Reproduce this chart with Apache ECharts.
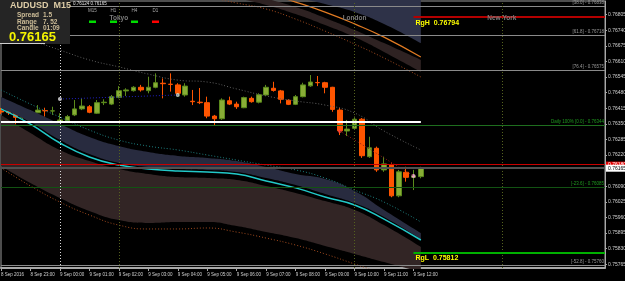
<!DOCTYPE html>
<html>
<head>
<meta charset="utf-8">
<script src="https://cdn.jsdelivr.net/npm/echarts@6/dist/echarts.min.js"></script>
<style>
  html, body { margin: 0; padding: 0; background: #000; }
  #chart { width: 625px; height: 281px; }
</style>
</head>
<body>
<div id="chart"></div>
<script>
// M15 slots, 8 Sep 22:00 .. 9 Sep 18:30 (prices only up to 12:15)
const times = []
for (let i = 0; i < 83; i++) {
  const m = (22 * 60 + i * 15) % 1440
  times.push(String(Math.floor(m / 60)).padStart(2, '0') + ':' + String(m % 60).padStart(2, '0'))
}
// label every 4th slot
const xLabels = ['8 Sep 2016', '8 Sep 23:00', '9 Sep 00:00', '9 Sep 01:00', '9 Sep 02:00', '9 Sep 03:00',
  '9 Sep 04:00', '9 Sep 05:00', '9 Sep 06:00', '9 Sep 07:00', '9 Sep 08:00', '9 Sep 09:00',
  '9 Sep 10:00', '9 Sep 11:00', '9 Sep 12:00']

const yTicks = [0.75765, 0.75830, 0.75895, 0.75960, 0.76025, 0.76090, 0.76155, 0.76220, 0.76285,
  0.76350, 0.76415, 0.76480, 0.76545, 0.76610, 0.76675, 0.76740, 0.76805]
const yLabelVals = [0.75765, 0.75830, 0.75895, 0.75960, 0.76025, 0.76090, 0.76220, 0.76285,
  0.76350, 0.76415, 0.76480, 0.76545, 0.76610, 0.76675, 0.76740, 0.76805]

// [open, close, low, high]
const candles = [
  [0.76403, 0.76399, 0.76391, 0.76416], [0.76403, 0.76396, 0.76387, 0.76437], [0.76396, 0.76377, 0.76345, 0.76407],
  [0.76377, 0.76387, 0.76369, 0.76394], [0.76385, 0.76400, 0.76380, 0.76407], [0.76396, 0.76407, 0.76394, 0.76428],
  [0.76405, 0.76404, 0.76380, 0.76417], [0.76403, 0.76404, 0.76387, 0.76421], [0.76356, 0.76366, 0.76352, 0.76394],
  [0.76363, 0.76380, 0.76359, 0.76387], [0.76387, 0.76412, 0.76382, 0.76449], [0.76412, 0.76424, 0.76407, 0.76456],
  [0.76421, 0.76398, 0.76394, 0.76428], [0.76394, 0.76438, 0.76391, 0.76449], [0.76438, 0.76440, 0.76428, 0.76452],
  [0.76432, 0.76463, 0.76428, 0.76470], [0.76460, 0.76488, 0.76456, 0.76507], [0.76487, 0.76491, 0.76466, 0.76498],
  [0.76488, 0.76502, 0.76484, 0.76507], [0.76502, 0.76491, 0.76484, 0.76512], [0.76488, 0.76502, 0.76477, 0.76546],
  [0.76502, 0.76521, 0.76498, 0.76560], [0.76519, 0.76517, 0.76456, 0.76539], [0.76515, 0.76514, 0.76484, 0.76560],
  [0.76512, 0.76477, 0.76466, 0.76519], [0.76470, 0.76507, 0.76463, 0.76519], [0.76444, 0.76442, 0.76428, 0.76491],
  [0.76440, 0.76438, 0.76432, 0.76499], [0.76438, 0.76382, 0.76373, 0.76463], [0.76382, 0.76371, 0.76345, 0.76387],
  [0.76371, 0.76449, 0.76366, 0.76456], [0.76446, 0.76432, 0.76428, 0.76463], [0.76432, 0.76421, 0.76412, 0.76442],
  [0.76417, 0.76459, 0.76415, 0.76463], [0.76456, 0.76442, 0.76438, 0.76463], [0.76440, 0.76471, 0.76435, 0.76477],
  [0.76470, 0.76502, 0.76466, 0.76512], [0.76498, 0.76489, 0.76484, 0.76525], [0.76487, 0.76452, 0.76435, 0.76491],
  [0.76448, 0.76431, 0.76428, 0.76452], [0.76431, 0.76463, 0.76428, 0.76470], [0.76463, 0.76512, 0.76460, 0.76521],
  [0.76508, 0.76524, 0.76504, 0.76553], [0.76522, 0.76521, 0.76507, 0.76549], [0.76521, 0.76502, 0.76477, 0.76525],
  [0.76502, 0.76410, 0.76400, 0.76504], [0.76407, 0.76321, 0.76303, 0.76416], [0.76320, 0.76328, 0.76299, 0.76366],
  [0.76331, 0.76369, 0.76324, 0.76380], [0.76369, 0.76217, 0.76208, 0.76374], [0.76213, 0.76250, 0.76208, 0.76296],
  [0.76248, 0.76158, 0.76150, 0.76255], [0.76158, 0.76183, 0.76150, 0.76213], [0.76178, 0.76050, 0.76044, 0.76185],
  [0.76050, 0.76150, 0.76044, 0.76158], [0.76148, 0.76127, 0.76109, 0.76171], [0.76127, 0.76133, 0.76074, 0.76158],
  [0.76130, 0.76165, 0.76123, 0.76171]
]

// envelope bands, read at these slots
const bandIdx = [0, 4, 8, 12, 16, 20, 24, 28, 32, 36, 40, 44, 48, 52, 57]
const cyanDot = [0.76491, 0.76432, 0.76378, 0.76324, 0.76282, 0.76257, 0.76241, 0.76220, 0.76199, 0.76178, 0.76158, 0.76124, 0.76074, 0.76024, 0.75941]
const slateTop = [0.76462, 0.76407, 0.76349, 0.76295, 0.76257, 0.76232, 0.76216, 0.76208, 0.76195, 0.76170, 0.76141, 0.76120, 0.76070, 0.75991, 0.75895]
const slateBot = [0.76416, 0.76357, 0.76282, 0.76224, 0.76187, 0.76170, 0.76162, 0.76158, 0.76149, 0.76124, 0.76095, 0.76058, 0.76020, 0.75962, 0.75870]
const cyanLine = [0.76412, 0.76349, 0.76270, 0.76212, 0.76178, 0.76162, 0.76153, 0.76149, 0.76141, 0.76112, 0.76083, 0.76045, 0.76012, 0.75953, 0.75866]
const brownTop = [0.76387, 0.76312, 0.76241, 0.76195, 0.76162, 0.76141, 0.76128, 0.76124, 0.76116, 0.76091, 0.76062, 0.76028, 0.75991, 0.75928, 0.75837]
const brownBot = [0.76174, 0.76103, 0.76041, 0.75987, 0.75949, 0.75937, 0.75941, 0.75941, 0.75924, 0.75899, 0.75874, 0.75841, 0.75808, 0.75774, 0.75733]
const orangeDot = [0.76166, 0.76091, 0.76024, 0.75970, 0.75928, 0.75912, 0.75912, 0.75916, 0.75899, 0.75874, 0.75845, 0.75808, 0.75766, 0.75724, 0.75666]
const grayDot = [0.76741, 0.76699, 0.76657, 0.76616, 0.76587, 0.76557, 0.76532, 0.76524, 0.76495, 0.76466, 0.76445, 0.76428, 0.76395, 0.76320, 0.76241]

const upIdx = [24, 28, 32, 36, 40, 44, 48, 52, 57]
const upOrangeDot = [0.76899, 0.76878, 0.76853, 0.76828, 0.76786, 0.76736, 0.76682, 0.76624, 0.76545]
const upBrownTop = [0.76960, 0.76935, 0.76905, 0.76872, 0.76836, 0.76791, 0.76741, 0.76686, 0.76616]
const upBrownBot = [0.76924, 0.76903, 0.76874, 0.76845, 0.76807, 0.76761, 0.76711, 0.76649, 0.76566]
const upOrange = [0.76980, 0.76955, 0.76930, 0.76895, 0.76857, 0.76815, 0.76766, 0.76711, 0.76628]
const upSlateBot = [0.77030, 0.77005, 0.76980, 0.76940, 0.76882, 0.76849, 0.76816, 0.76766, 0.76686]
const upSlateTop = [0.77100, 0.77100, 0.77100, 0.77100, 0.77100, 0.77100, 0.77100, 0.77100, 0.77100]

// horizontal levels
const levelVals = [0.76838, 0.76718, 0.76575, 0.76344, 0.76085, 0.75760]
const levelNames = ['[38.0] - 0.76838', '[61.8] - 0.76718', '[76.4] - 0.76575', 'Daily 100% [0.0] - 0.76344', '[-23.6] - 0.76085', '[-52.8] - 0.75760']
const levelColors = ['#8a8a8a', '#8a8a8a', '#8a8a8a', '#1e6e1e', '#125212', '#8a8a8a']
const supportLine = 0.76357
const rangeHigh = 0.76794
const rangeLow = 0.75812
const bid = 0.76165
const ask = 0.76180

const sessionIdx = [16, 48, 68]
const sessionNames = ['Tokyo', 'London', 'New York']

const zigBlue = [[8, 0.76453], [24, 0.76470]]
const zigRed = [[46, 0.76320], [56, 0.76133]]
const marks = [[8, 0.76453], [24, 0.76470], [46, 0.76320], [56, 0.76133]]
const markColors = ['#e8e8e8', '#d8f0d8', '#ff4040', '#ffb0e0']

const FONT = 'Liberation Sans'
const FIRST = 0
const LAST = 82

const pts = (idx, vals) => idx.map((x, i) => [times[x], vals[i]])
const diff = (idx, hi, lo) => idx.map((x, i) => [times[x], +(hi[i] - lo[i]).toFixed(5)])

function band(name, idx, lo, hi, color) {
  return [
    { type: 'line', data: pts(idx, lo), stack: name, smooth: true, symbol: 'none', silent: true,
      lineStyle: { opacity: 0 } },
    { type: 'line', data: diff(idx, hi, lo), stack: name, smooth: true, symbol: 'none', silent: true,
      lineStyle: { opacity: 0 }, areaStyle: { color: color, opacity: 1 } },
  ]
}
function curve(idx, vals, color, type, width) {
  return { type: 'line', data: pts(idx, vals), smooth: true, symbol: 'none', silent: true,
    lineStyle: { color: color, type: type, width: width } }
}
// horizontal segment between two slots
function hline(v, from, to, lineStyle, label) {
  return [{ coord: [times[from], v], lineStyle: lineStyle, label: label || { show: false } }, { coord: [times[to], v] }]
}

const showTick = (i) => i % 4 === 0 && i <= 56

const levelLines = levelVals.map((v, i) => hline(v, FIRST, LAST,
  { color: levelColors[i], width: 1, type: 'solid' },
  { show: true, position: 'insideEndTop', formatter: levelNames[i], color: i === 3 || i === 4 ? '#1f9a1f' : '#9a9a9a',
    fontSize: 4.5, fontFamily: FONT, distance: 1 }))

const option = {
  animation: false,
  backgroundColor: '#000',
  textStyle: { fontFamily: FONT },
  grid: { left: 1, right: 20, top: 1, bottom: 13, show: true, borderColor: '#9a9a9a', borderWidth: 1,
    backgroundColor: 'transparent', outerBoundsMode: 'none' },
  xAxis: {
    type: 'category', data: times, boundaryGap: false,
    axisLine: { lineStyle: { color: '#a8a8a8', width: 2 } },
    axisTick: { show: true, interval: showTick, length: 3, lineStyle: { color: '#a8a8a8' } },
    axisLabel: { interval: showTick, formatter: (v, i) => xLabels[i / 4] || '', align: 'left',
      color: '#d0d0d0', fontSize: 4.5, margin: 4 },
    splitLine: { show: false },
  },
  yAxis: {
    type: 'value', position: 'right', min: 0.757494, max: 0.768614,
    axisLine: { show: true, lineStyle: { color: '#a8a8a8', width: 1 } },
    axisTick: { show: true, customValues: yTicks, length: 2, lineStyle: { color: '#a8a8a8' } },
    axisLabel: { customValues: yLabelVals, formatter: (v) => v.toFixed(5), color: '#d0d0d0', fontSize: 5, margin: 3 },
    splitLine: { show: false },
  },
  series: [
    ...band('slateLow', bandIdx, slateBot, slateTop, '#282b3f'),
    ...band('brownLow', bandIdx, brownBot, brownTop, '#322525'),
    ...band('slateUp', upIdx, upSlateBot, upSlateTop, '#2e3248'),
    ...band('brownUp', upIdx, upBrownBot, upBrownTop, '#2e2222'),
    curve(bandIdx, cyanDot, '#1d8080', [1, 2], 1),
    curve(bandIdx, cyanLine, '#22c8c8', 'solid', 1.5),
    curve(bandIdx, orangeDot, '#a04a1e', [1, 2], 1),
    curve(upIdx, upOrangeDot, '#a04a1e', [1, 2], 1),
    curve(upIdx, upOrange, '#e07a22', 'solid', 1.2),
    curve(bandIdx, grayDot, '#5e5e5e', [1, 2], 1),
    {
      type: 'line', data: [], silent: true,
      markLine: {
        silent: true, symbol: ['none', 'none'], animation: false,
        data: [
          ...levelLines,
          { xAxis: times[8], lineStyle: { color: '#d8d8d8', type: [1, 2], width: 1 }, label: { show: false } },
          ...sessionIdx.map((s) => ({ xAxis: times[s], lineStyle: { color: '#55621e', type: [1, 2], width: 1 }, label: { show: false } })),
          hline(supportLine, 0, 57, { color: '#ffffff', width: 2, type: 'solid' }),
          hline(rangeHigh, 56, LAST, { color: '#b40000', width: 2, type: 'solid' },
            { show: true, position: 'insideStartBottom', formatter: 'RgH  ' + rangeHigh.toFixed(5), color: '#ffff00',
              fontSize: 7, fontWeight: 'bold', fontFamily: FONT, distance: 2 }),
          hline(rangeLow, 56, LAST, { color: '#00b000', width: 2, type: 'solid' },
            { show: true, position: 'insideStartBottom', formatter: 'RgL  ' + rangeLow.toFixed(5), color: '#ffff00',
              fontSize: 7, fontWeight: 'bold', fontFamily: FONT, distance: 2 }),
          hline(ask, FIRST, LAST, { color: '#c80000', width: 1, type: 'solid' },
            { show: true, position: 'end', formatter: ask.toFixed(5), color: '#fff', backgroundColor: '#e00000',
              fontSize: 5, padding: [1, 2, 0, 2], distance: 1 }),
          hline(bid, FIRST, LAST, { color: '#505050', width: 2, type: 'solid' },
            { show: true, position: 'end', formatter: bid.toFixed(5), color: '#000', backgroundColor: '#ffffff',
              fontSize: 5, padding: [1, 2, 1, 2], distance: 1 }),
        ],
      },
    },
    { type: 'line', data: zigBlue.map((p) => [times[p[0]], p[1]]), symbol: 'none', silent: true,
      lineStyle: { color: '#2020c0', type: [1, 2], width: 1 } },
    { type: 'line', data: zigRed.map((p) => [times[p[0]], p[1]]), symbol: 'none', silent: true,
      lineStyle: { color: '#8a1a1a', type: [1, 2], width: 1 } },
    {
      type: 'candlestick', data: candles, barWidth: 5, silent: true,
      itemStyle: { color: '#88ad36', borderColor: '#5b8a1c', color0: '#ff5500', borderColor0: '#ff5500', borderWidth: 1 },
    },
    {
      type: 'scatter', silent: true, symbolSize: 4,
      data: marks.map((p, i) => ({ value: [times[p[0]], p[1]], itemStyle: { color: markColors[i] } })),
    },
  ],
}

const chart = echarts.init(document.getElementById('chart'), null, { renderer: 'canvas' })
chart.setOption(option)

// overlay texts (panel, header, sessions)
const txt = (x, y, text, size, fill, weight, align) => ({
  type: 'text', x: x, y: y, silent: true, z: 100,
  style: { text: text, fontSize: size, fontFamily: FONT, fontWeight: weight || 'normal', fill: fill,
    align: align || 'left', verticalAlign: 'top' },
})
const tfNames = ['M15', 'H1', 'H4', 'D1']
const tfX = [89, 110, 131, 152]
const tfColors = ['#00dd00', '#00dd00', '#00dd00', '#ff0000']

const graphics = [
  { type: 'rect', shape: { x: 0, y: 0, width: 70, height: 44 }, style: { fill: '#252525' }, z: 99, silent: true },
  { type: 'rect', shape: { x: 0, y: 43, width: 45, height: 1 }, style: { fill: '#d0d0d0' }, z: 99, silent: true },
  txt(10, 1, 'AUDUSD  M15', 9, '#dccba6', 'bold'),
  txt(17, 12, 'Spread', 6.5, '#cdbd98', 'bold'), txt(43, 12, '1.5', 6.5, '#cdbd98', 'bold'),
  txt(17, 18.5, 'Range', 6.5, '#cdbd98', 'bold'), txt(43, 18.5, '7. 52', 6.5, '#cdbd98', 'bold'),
  txt(17, 24.5, 'Candle', 6.5, '#cdbd98', 'bold'), txt(43, 24.5, '01:09', 6.5, '#cdbd98', 'bold'),
  txt(9, 30.5, '0.76165', 13, '#f4f400', 'bold'),
  txt(73, 1, '0.76124 0.76165', 4.5, '#e0e0e0'),
  ...tfNames.map((n, i) => txt(tfX[i] + 3.5, 8, n, 4.5, '#a8a8a8', 'normal', 'center')),
  ...tfColors.map((c, i) => ({ type: 'rect', shape: { x: tfX[i], y: 20.5, width: 7, height: 2.5 }, style: { fill: c }, z: 100, silent: true })),
  ...sessionIdx.map((s, i) => txt(chart.convertToPixel({ xAxisIndex: 0 }, times[s]), 14.5, sessionNames[i], 6.5, '#7c7c7c', 'bold', 'center')),
]
chart.setOption({ graphic: graphics })
</script>
</body>
</html>
